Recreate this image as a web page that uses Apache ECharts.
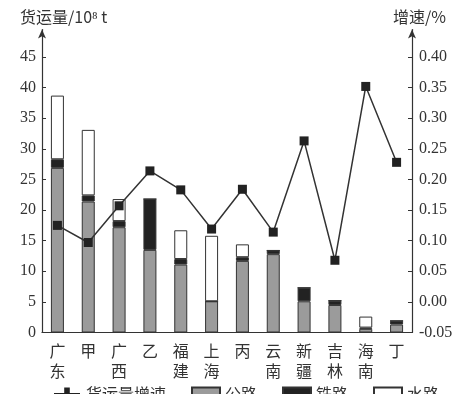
<!DOCTYPE html>
<html><head><meta charset="utf-8">
<script src="https://cdn.jsdelivr.net/npm/echarts@6/dist/echarts.min.js"></script>
<style>html,body{margin:0;padding:0;background:#fff}#c{width:460px;height:394px}</style>
</head><body><div id="c"></div>
<script>
var categories = ['广\n东','甲','广\n西','乙','福\n建','上\n海','丙','云\n南','新\n疆','吉\n林','海\n南','丁'];
var road  = [26.9, 21.4, 17.2, 13.5, 11.1, 5.1, 11.7, 12.8, 5.1, 4.5, 0.6, 1.3];
var rail  = [1.4, 1.0, 1.0, 8.3, 0.9, 0, 0.6, 0.6, 2.2, 0.7, 0.2, 0.6];
var water = [10.4, 10.7, 3.6, 0, 4.7, 10.7, 2.1, 0, 0, 0, 1.8, 0];
var growth = [0.125, 0.097, 0.157, 0.214, 0.183, 0.119, 0.184, 0.114, 0.263, 0.068, 0.352, 0.228];
var leftTicks = [0,5,10,15,20,25,30,35,40,45];
var rightTicks = [-0.05,0,0.05,0.10,0.15,0.20,0.25,0.30,0.35,0.40];

var serif = '"Liberation Serif","DejaVu Serif",serif';
var cjk = '"Noto Sans CJK SC","Liberation Serif",serif';
var ink = '#333';
var chart = echarts.init(document.getElementById('c'));
var barStyle = function(c){ return {color:c, borderColor:'#333', borderWidth:1}; };
chart.setOption({
  animation:false,
  grid:{left:42, right:48, top:29.5, bottom:61.5},
  legend:{
    bottom:-13, left:49, itemWidth:28, itemHeight:13, itemGap:25,
    textStyle:{fontFamily:cjk, fontSize:16, color:ink},
    data:[
      {name:'货运量增速', icon:'path://M0,6 L11,6 L11,0 L17,0 L17,6 L28,6 L28,8 L17,8 L17,14 L11,14 L11,8 L0,8 Z', itemStyle:{color:'#222'}},
      {name:'公路', icon:'rect'},{name:'铁路', icon:'rect'},{name:'水路', icon:'rect'}
    ]
  },
  graphic:[
    {type:'text', left:20, top:9, style:{text:'货运量/10⁸ t', font:'16px '+cjk, fill:ink}},
    {type:'text', left:393, top:9, style:{text:'增速/%', font:'16px '+cjk, fill:ink}}
  ],
  xAxis:{
    type:'category', data:categories,
    axisLine:{lineStyle:{color:ink, width:1.2}},
    axisTick:{inside:true, length:4, lineStyle:{color:ink}},
    axisLabel:{fontFamily:cjk, fontSize:16, color:ink, lineHeight:20, margin:8}
  },
  yAxis:[
    {type:'value', min:0, max:49.5, interval:5, splitLine:{show:false},
     axisLine:{show:true, symbol:['none','arrow'], symbolSize:[6,9], lineStyle:{color:ink, width:1.2}},
     axisTick:{show:true, inside:true, length:4, customValues:leftTicks, lineStyle:{color:ink}},
     axisLabel:{customValues:leftTicks, fontFamily:serif, fontSize:16, color:ink, margin:6}},
    {type:'value', min:-0.05, max:0.445, interval:0.05, splitLine:{show:false},
     axisLine:{show:true, symbol:['none','arrow'], symbolSize:[6,9], lineStyle:{color:ink, width:1.2}},
     axisTick:{show:true, inside:true, length:4, customValues:rightTicks, lineStyle:{color:ink}},
     axisLabel:{customValues:rightTicks, fontFamily:serif, fontSize:16, color:ink, margin:7,
       formatter:function(v){return v.toFixed(2);}}}
  ],
  series:[
    {name:'公路', type:'bar', stack:'a', barWidth:13, data:road, itemStyle:barStyle('#9b9b9b')},
    {name:'铁路', type:'bar', stack:'a', barWidth:13, data:rail, itemStyle:barStyle('#222')},
    {name:'水路', type:'bar', stack:'a', barWidth:13, data:water, itemStyle:barStyle('#fff')},
    {name:'货运量增速', type:'line', yAxisIndex:1, data:growth, symbol:'rect', symbolSize:9, z:5,
     itemStyle:{color:'#222'}, lineStyle:{color:'#333', width:1.5}}
  ]
});
</script></body></html>
